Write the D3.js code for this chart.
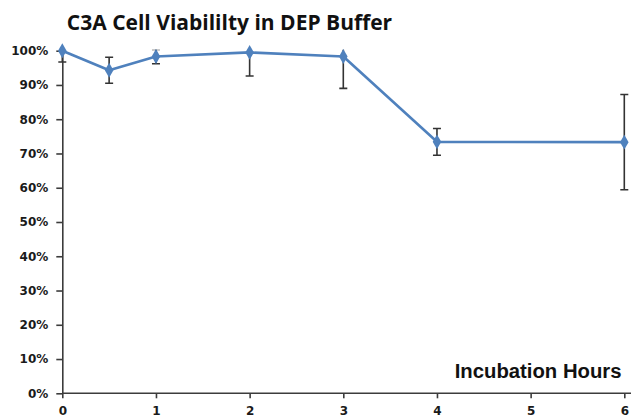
<!DOCTYPE html>
<html>
<head>
<meta charset="utf-8">
<script src="https://cdn.jsdelivr.net/npm/d3@7"></script>
<style>
  body { margin: 0; background: #fff; }
  svg { display: block; }
</style>
</head>
<body>
<div id="chart"></div>
<script>
// incubation time points (hours) and mean viability (%)
const hours = [0, 0.5, 1, 2, 3, 4, 6]
const viability = [100, 94.3, 98.3, 99.5, 98.3, 73.4, 73.3]
// error bar half-widths (%)
const errors = [3.3, 3.8, 2.1, 6.9, 9.3, 3.9, 13.9]

const xTicks = [0, 1, 2, 3, 4, 5, 6]
const yTicks = [0, 10, 20, 30, 40, 50, 60, 70, 80, 90, 100]

const width = 631
const height = 417
const margin = {top: 50.7, right: 6.7, bottom: 23.7, left: 62.3}

const lineColor = '#4f81bd'
const axisColor = '#3c3c3c'

var svg = d3.select('#chart')
    .append('svg')
    .attr('width', width)
    .attr('height', height)

var x = d3.scaleLinear()
    .domain([0, 6])
    .range([margin.left, width - margin.right])

var y = d3.scaleLinear()
    .domain([0, 100])
    .range([height - margin.bottom, margin.top])

// title
svg.append('text')
    .attr('x', 229.5)
    .attr('y', 30)
    .attr('text-anchor', 'middle')
    .style('font-family', '"Open Sans", sans-serif')
    .style('font-weight', 700)
    .style('font-size', '21px')
    .style('fill', '#111')
    .text('C3A Cell Viabililty in DEP Buffer')

// y axis
var yAxis = svg.append('g')
    .attr('transform', `translate(${margin.left},0)`)
    .call(d3.axisLeft(y).tickValues(yTicks).tickFormat(d => d + '%')
        .tickSize(6).tickSizeOuter(0).tickPadding(8))

// x axis
var xAxis = svg.append('g')
    .attr('transform', `translate(0,${y(0)})`)
    .call(d3.axisBottom(x).tickValues(xTicks).tickFormat(d3.format('d'))
        .tickSize(5).tickSizeOuter(0).tickPadding(8))

// x axis line runs out to the edge of the picture
xAxis.select('.domain').remove()
xAxis.append('line')
    .attr('x1', x(0))
    .attr('x2', width)
    .attr('stroke', axisColor)
    .attr('stroke-width', 1.6)

for (const ax of [xAxis, yAxis]) {
    ax.selectAll('.domain, .tick line')
        .attr('stroke', axisColor)
        .attr('stroke-width', 1.6)
    ax.selectAll('text')
        .style('font-family', '"DejaVu Sans", sans-serif')
        .style('font-weight', 700)
        .style('font-size', '12px')
        .style('fill', '#1a1a1a')
}

// axis title
svg.append('text')
    .attr('x', 621.5)
    .attr('y', 378.3)
    .attr('text-anchor', 'end')
    .style('font-family', '"Liberation Sans", Arial, sans-serif')
    .style('font-weight', 700)
    .style('font-size', '20.3px')
    .style('fill', '#111')
    .text('Incubation Hours')

const points = hours.map((h, i) => ({h: h, v: viability[i], e: errors[i]}))

// error bars, clipped at 100%
svg.append('clipPath')
    .attr('id', 'plotClip')
    .append('rect')
    .attr('x', 0)
    .attr('y', y(100) - 1)
    .attr('width', width)
    .attr('height', y(0) - y(100) + 1)

var err = svg.append('g')
    .attr('clip-path', 'url(#plotClip)')
    .attr('stroke', '#333')
    .attr('stroke-width', 1.6)
    .selectAll('g')
    .data(points)
    .enter()
    .append('g')

err.append('line')
    .attr('x1', d => x(d.h)).attr('x2', d => x(d.h))
    .attr('y1', d => y(d.v + d.e)).attr('y2', d => y(d.v - d.e))
err.append('line')
    .attr('x1', d => x(d.h) - 4).attr('x2', d => x(d.h) + 4)
    .attr('y1', d => y(d.v + d.e)).attr('y2', d => y(d.v + d.e))
err.append('line')
    .attr('x1', d => x(d.h) - 4).attr('x2', d => x(d.h) + 4)
    .attr('y1', d => y(d.v - d.e)).attr('y2', d => y(d.v - d.e))

// data line
var line = d3.line()
    .x(d => x(d.h))
    .y(d => y(d.v))

svg.append('path')
    .datum(points)
    .attr('d', line)
    .attr('fill', 'none')
    .attr('stroke', lineColor)
    .attr('stroke-width', 2.6)
    .attr('stroke-linejoin', 'round')

// diamond markers
svg.append('g')
    .selectAll('path')
    .data(points)
    .enter()
    .append('path')
    .attr('d', d3.symbol().type(d3.symbolDiamond).size(64))
    .attr('transform', d => `translate(${x(d.h)},${y(d.v)})`)
    .attr('fill', lineColor)
</script>
</body>
</html>
